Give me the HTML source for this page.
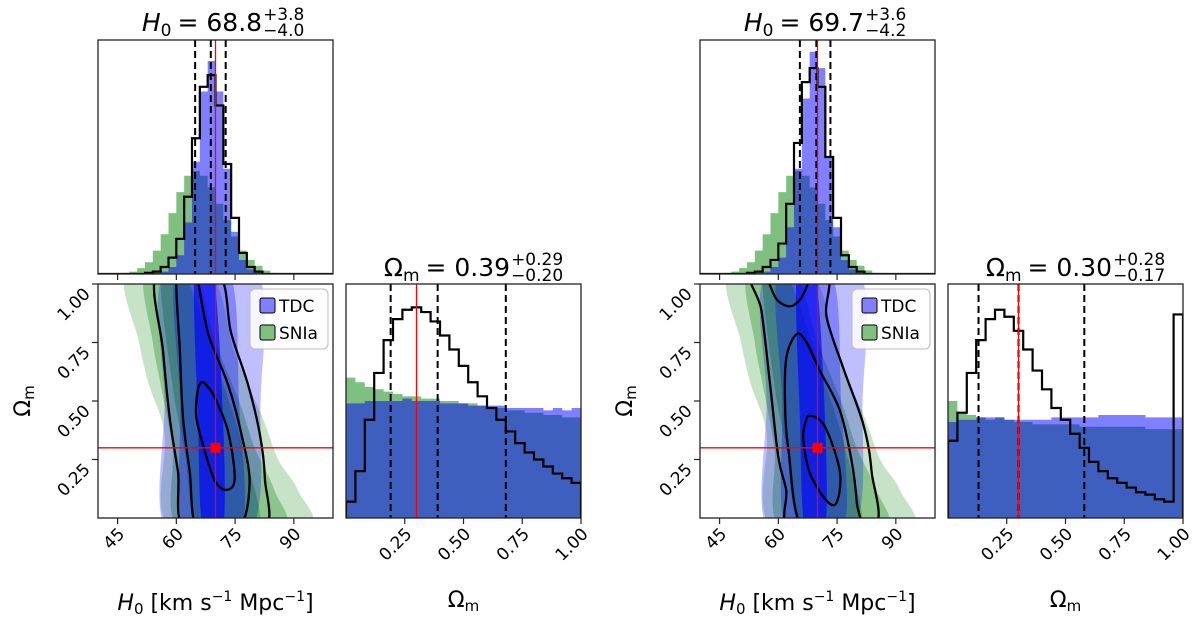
<!DOCTYPE html>
<html><head><meta charset="utf-8"><style>
html,body{margin:0;padding:0;background:#fff;}
svg{display:block;font-family:"DejaVu Sans","Liberation Sans",sans-serif;}
</style></head><body>
<svg id="fig" width="1200" height="620" viewBox="0 0 1200 620" xmlns="http://www.w3.org/2000/svg">
<defs></defs>
</svg>
<script>
// ---------- data ----------
const h0BinStart = 40, h0BinWidth = 2;
const omBinStart = 0, omBinWidth = 0.04;
const h0Ticks = [45, 60, 75, 90];
const h0TickLabels = ["45", "60", "75", "90"];
const omTicks = [0.25, 0.5, 0.75, 1.0];
const omTickLabels = ["0.25", "0.50", "0.75", "1.00"];
const truthH0 = 70, truthOm = 0.3;

// left corner
const L_h0Tdc = [0,0,0,0,0,0,0,0.005,0.01,0.03,0.08,0.22,0.48,0.78,0.91,0.78,0.45,0.18,0.06,0.02,0.005,0,0,0,0,0,0,0,0,0];
const L_h0Sn = [0,0,0,0.005,0.01,0.025,0.05,0.1,0.17,0.26,0.35,0.42,0.44,0.42,0.37,0.3,0.23,0.16,0.1,0.06,0.035,0.015,0.005,0,0,0,0,0,0,0];
const L_h0Joint = [0,0,0,0,0,0,0.005,0.01,0.03,0.07,0.15,0.33,0.58,0.8,0.85,0.72,0.47,0.24,0.09,0.03,0.01,0,0,0,0,0,0,0,0,0];
const L_omTdc = [0.49,0.49,0.5,0.5,0.5,0.5,0.51,0.5,0.5,0.5,0.49,0.49,0.49,0.48,0.48,0.48,0.48,0.47,0.47,0.47,0.47,0.46,0.47,0.46,0.47];
const L_omSn = [0.6,0.58,0.56,0.55,0.54,0.53,0.52,0.52,0.51,0.51,0.5,0.5,0.49,0.49,0.48,0.47,0.47,0.46,0.46,0.45,0.45,0.44,0.44,0.43,0.43];
const L_omJoint = [0.07,0.2,0.42,0.62,0.76,0.85,0.89,0.9,0.88,0.84,0.78,0.72,0.65,0.58,0.52,0.47,0.42,0.37,0.32,0.28,0.25,0.22,0.19,0.17,0.15];
const L_h0Quant = [64.8, 68.8, 72.6];
const L_omQuant = [0.19, 0.39, 0.68];
const L_h0Title = ["68.8", "+3.8", "\u22124.0"];
const L_omTitle = ["0.39", "+0.29", "\u22120.20"];

// right corner
const R_h0Tdc = [0,0,0,0,0,0,0,0.005,0.01,0.03,0.07,0.2,0.45,0.75,0.95,0.88,0.5,0.2,0.06,0.02,0.005,0,0,0,0,0,0,0,0,0];
const R_h0Sn = [0,0,0,0.005,0.01,0.025,0.05,0.1,0.17,0.26,0.35,0.42,0.44,0.42,0.37,0.3,0.23,0.16,0.1,0.06,0.035,0.015,0.005,0,0,0,0,0,0,0];
const R_h0Joint = [0,0,0,0,0,0,0.005,0.01,0.03,0.06,0.13,0.3,0.56,0.82,0.88,0.8,0.5,0.24,0.08,0.03,0.01,0,0,0,0,0,0,0,0,0];
const R_omTdc = [0.41,0.42,0.42,0.43,0.43,0.43,0.42,0.42,0.42,0.42,0.42,0.43,0.43,0.43,0.43,0.43,0.44,0.44,0.44,0.44,0.44,0.43,0.43,0.43,0.43];
const R_omSn = [0.5,0.45,0.44,0.43,0.42,0.43,0.42,0.41,0.41,0.4,0.4,0.4,0.4,0.4,0.39,0.39,0.39,0.39,0.39,0.39,0.39,0.38,0.38,0.38,0.38];
const R_omJoint = [0.33,0.45,0.62,0.76,0.85,0.89,0.86,0.8,0.72,0.63,0.55,0.47,0.42,0.36,0.3,0.24,0.2,0.17,0.15,0.13,0.11,0.1,0.08,0.07,0.87];
const R_h0Quant = [65.5, 69.7, 73.3];
const R_omQuant = [0.13, 0.30, 0.58];
const R_h0Title = ["69.7", "+3.6", "\u22124.2"];
const R_omTitle = ["0.30", "+0.28", "\u22120.17"];

// filled contour bands [H0, Om]
const tdc3 = [[57,1.05],[57,0.5],[57.4,-0.05],[79,-0.05],[81.5,0.5],[80.5,1.05]];
const tdc2 = [[60,1.05],[61,0.5],[62,-0.05],[76.5,-0.05],[76,0.5],[73.5,1.05]];
const tdc1 = [[64.7,1.05],[65.5,0.43],[66.8,-0.05],[71.9,-0.05],[71.9,0.43],[69.4,1.05]];
const sn3 = [[47.5,1.05],[50.5,0.75],[53,0.57],[57,0.36],[59,-0.05],[93,-0.05],[91,0.12],[86,0.25],[82,0.43],[75,0.7],[68,1.05]];
const sn2 = [[52,1.05],[54,0.75],[56,0.57],[59,0.3],[61,-0.05],[87,-0.05],[85,0.12],[80,0.3],[76,0.5],[70,0.75],[64,1.05]];
const sn1 = [[56,1.05],[59,0.57],[62,0.3],[66,-0.05],[81,-0.05],[77,0.3],[72,0.57],[62,1.05]];

// joint black contours
const L_c3 = [[55.1,1.05],[56.6,0.715],[58.3,0.43],[60.4,0.2],[62.6,-0.05],[82.1,-0.05],[82.6,0.17],[81.3,0.36],[78.3,0.57],[74,0.79],[70.4,1.05]];
const L_c2 = [[60.2,1.05],[60.9,0.715],[61.7,0.43],[63.4,0.2],[65.5,-0.05],[75.7,-0.05],[78.7,0.145],[76.6,0.36],[73.2,0.57],[68.1,0.79],[64.7,1.05]];
const L_c1 = [[66.4,0.58],[67.8,0.565],[69.8,0.515],[73.2,0.37],[74.9,0.17],[72.8,0.12],[69.8,0.16],[67.2,0.29],[65.1,0.43],[65.4,0.54]];
const R_c3 = [[53.6,1.05],[55.7,0.886],[57.9,0.57],[60,0.26],[62,0.12],[63.4,-0.05],[84.1,-0.05],[83.8,0.2],[81.7,0.4],[76.6,0.64],[72.3,0.86],[71.7,1.05]];
const R_c2 = [[64.7,0.786],[62.1,0.69],[61.7,0.5],[62.6,0.29],[66.4,-0.05],[80,-0.05],[80,0.07],[78.7,0.245],[75.7,0.46],[70.6,0.63],[67.2,0.75]];
const R_c1 = [[68.1,0.437],[71.9,0.39],[75.7,0.2],[74.9,0.067],[72.3,0.074],[68.1,0.19],[66.4,0.33],[66.8,0.4]];
const R_c0 = [[57.9,1.05],[59,0.95],[61.5,0.91],[64,0.91],[66.5,0.96],[67.4,1.05]];

// ---------- drawing ----------
const NS = "http://www.w3.org/2000/svg";
const svg = document.getElementById('fig');
const defs = svg.querySelector('defs');
function mk(tag, attrs, parent) {
  const e = document.createElementNS(NS, tag);
  for (const k in attrs) e.setAttribute(k, attrs[k]);
  (parent || svg).appendChild(e);
  return e;
}
const PW = 235, PH = 234;
let clipId = 0;
function clip(x, y) {
  const id = 'c' + (clipId++);
  const cp = mk('clipPath', {id: id}, defs);
  mk('rect', {x: x, y: y, width: PW, height: PH}, cp);
  return 'url(#' + id + ')';
}
function stepPath(vals, bs, bw, sx, sy) {
  let d = 'M' + sx(bs) + ',' + sy(0);
  vals.forEach((v, i) => {
    d += 'L' + sx(bs + i * bw) + ',' + sy(v) + 'L' + sx(bs + (i + 1) * bw) + ',' + sy(v);
  });
  d += 'L' + sx(bs + vals.length * bw) + ',' + sy(0);
  return d;
}
function smoothPath(pts, sx, sy) {
  const P = pts.map(p => [sx(p[0]), sy(p[1])]);
  const n = P.length;
  let d = 'M' + P[0][0] + ',' + P[0][1];
  for (let i = 0; i < n; i++) {
    const p0 = P[(i - 1 + n) % n], p1 = P[i], p2 = P[(i + 1) % n], p3 = P[(i + 2) % n];
    const c1 = [p1[0] + (p2[0] - p0[0]) / 6, p1[1] + (p2[1] - p0[1]) / 6];
    const c2 = [p2[0] - (p3[0] - p1[0]) / 6, p2[1] - (p3[1] - p1[1]) / 6];
    d += 'C' + c1[0] + ',' + c1[1] + ' ' + c2[0] + ',' + c2[1] + ' ' + p2[0] + ',' + p2[1];
  }
  return d + 'Z';
}

function title(g, cx, y, vals, isH) {
  const t = mk('text', {x: cx - 44, y: y, 'font-size': 25, 'text-anchor': 'end', fill: '#000'}, g);
  if (isH) {
    const a = mk('tspan', {'font-style': 'italic'}, t); a.textContent = 'H';
    const b = mk('tspan', {'font-size': 17, dy: 5}, t); b.textContent = '0';
  } else {
    const a = mk('tspan', {}, t); a.textContent = '\u03A9';
    const b = mk('tspan', {'font-size': 17, dy: 5}, t); b.textContent = 'm';
  }
  const eq = mk('text', {x: cx - 38, y: y, 'font-size': 25, fill: '#000'}, g);
  eq.textContent = '= ' + vals[0];
  const w = eq.getComputedTextLength ? eq.getComputedTextLength() : 80;
  const up = mk('text', {x: cx - 38 + w + 1, y: y - 11, 'font-size': 17, fill: '#000'}, g);
  up.textContent = vals[1];
  const dn = mk('text', {x: cx - 38 + w + 1, y: y + 5, 'font-size': 17, fill: '#000'}, g);
  dn.textContent = vals[2];
}

function corner(x0, P, name) {
  const g = mk('g', {});
  
  
  const yTop = 40, y2 = 284, xOm = x0 + 248;
  const sxH = v => x0 + (v - 40) / 60 * PW;
  const sxO = v => xOm + v * PW;
  const syTop = v => yTop + PH - v * PH;
  const syO = v => y2 + PH - v * PH;

  const gt = mk('g', {'clip-path': clip(x0, yTop)}, g);
  
  
  const p1 = mk('path', {d: stepPath(P.h0Sn, h0BinStart, h0BinWidth, sxH, syTop), fill: '#008000', 'fill-opacity': 0.5}, gt);
   
  const p2 = mk('path', {d: stepPath(P.h0Tdc, h0BinStart, h0BinWidth, sxH, syTop), fill: '#0000ff', 'fill-opacity': 0.5}, gt);
   
  const p3 = mk('path', {d: stepPath(P.h0Joint, h0BinStart, h0BinWidth, sxH, syTop), fill: 'none', stroke: '#000', 'stroke-width': 2.2}, gt);
   
  P.h0Quant.forEach(q => {
    const l = mk('line', {x1: sxH(q), x2: sxH(q), y1: yTop, y2: yTop + PH, stroke: '#000', 'stroke-width': 2, 'stroke-dasharray': '7,4'}, gt);
     
  });
  const tr1 = mk('line', {x1: sxH(truthH0), x2: sxH(truthH0), y1: yTop, y2: yTop + PH, stroke: '#ff0000', 'stroke-width': 1.3}, gt);
   
  const f1 = mk('rect', {x: x0, y: yTop, width: PW, height: PH, fill: 'none', stroke: '#222', 'stroke-width': 1.3}, g);
   
  h0Ticks.forEach(t => mk('line', {x1: sxH(t), x2: sxH(t), y1: yTop + PH, y2: yTop + PH + 6, stroke: '#222', 'stroke-width': 1.2}, g));
  const tg1 = mk('g', {}, g);  
  title(tg1, x0 + PW / 2, 31, P.h0Title, true);

  const g2 = mk('g', {'clip-path': clip(x0, y2)}, g);
  
  
  [[sn3, 0.22], [sn2, 0.3], [sn1, 0.35]].forEach(([pts, o]) => {
    const e = mk('path', {d: smoothPath(pts, sxH, syO), fill: '#008000', 'fill-opacity': o}, g2);
     
  });
  [[tdc3, 0.25], [tdc2, 0.3], [tdc1, 0.65]].forEach(([pts, o]) => {
    const e = mk('path', {d: smoothPath(pts, sxH, syO), fill: '#0000ff', 'fill-opacity': o}, g2);
     
  });
  P.contours.forEach(pts => {
    const e = mk('path', {d: smoothPath(pts, sxH, syO), fill: 'none', stroke: '#000', 'stroke-width': 2.3, 'stroke-linejoin': 'round'}, g2);
     
  });
  const tv = mk('line', {x1: sxH(truthH0), x2: sxH(truthH0), y1: y2, y2: y2 + PH, stroke: '#ff0000', 'stroke-width': 1.3}, g2);
   
  const th = mk('line', {x1: x0, x2: x0 + PW, y1: syO(truthOm), y2: syO(truthOm), stroke: '#ff0000', 'stroke-width': 1.3}, g2);
   
  const tm = mk('rect', {x: sxH(truthH0) - 5, y: syO(truthOm) - 5, width: 10, height: 10, fill: '#ff0000'}, g2);
   
  const f2 = mk('rect', {x: x0, y: y2, width: PW, height: PH, fill: 'none', stroke: '#222', 'stroke-width': 1.3}, g);
   

  const lg = mk('g', {}, g);  
  mk('rect', {x: x0 + 152, y: y2 + 5, width: 78, height: 60, rx: 5, fill: '#fff', 'fill-opacity': 0.85, stroke: '#bbb', 'stroke-width': 1}, lg);
  const le1 = mk('g', {}, lg);  
  mk('rect', {x: x0 + 162, y: y2 + 14, width: 15, height: 15, rx: 2, fill: '#8080ff', stroke: '#000', 'stroke-width': 1}, le1);
  const lt1 = mk('text', {x: x0 + 181, y: y2 + 28, 'font-size': 17, fill: '#000'}, le1); lt1.textContent = 'TDC';
  const le2 = mk('g', {}, lg);  
  mk('rect', {x: x0 + 162, y: y2 + 41, width: 15, height: 15, rx: 2, fill: '#80c080', stroke: '#000', 'stroke-width': 1}, le2);
  const lt2 = mk('text', {x: x0 + 181, y: y2 + 55, 'font-size': 17, fill: '#000'}, le2); lt2.textContent = 'SNIa';

  h0Ticks.forEach((t, i) => {
    mk('line', {x1: sxH(t), x2: sxH(t), y1: y2 + PH, y2: y2 + PH + 6, stroke: '#222', 'stroke-width': 1.2}, g);
    const tx = mk('text', {x: 0, y: 0, 'font-size': 17, 'text-anchor': 'end', fill: '#000', transform: 'translate(' + (sxH(t) + 8) + ',' + (y2 + PH + 17) + ') rotate(-45)'}, g);
     
    tx.textContent = h0TickLabels[i];
  });
  omTicks.forEach((t, i) => {
    mk('line', {x1: x0 - 6, x2: x0, y1: syO(t), y2: syO(t), stroke: '#222', 'stroke-width': 1.2}, g);
    const ty = mk('text', {x: 0, y: 0, 'font-size': 17, 'text-anchor': 'end', fill: '#000', transform: 'translate(' + (x0 - 7) + ',' + (syO(t) + 11) + ') rotate(-45)'}, g);
     
    ty.textContent = omTickLabels[i];
    mk('line', {x1: sxO(t), x2: sxO(t), y1: y2 + PH, y2: y2 + PH + 6, stroke: '#222', 'stroke-width': 1.2}, g);
    const tx = mk('text', {x: 0, y: 0, 'font-size': 17, 'text-anchor': 'end', fill: '#000', transform: 'translate(' + (sxO(t) + 8) + ',' + (y2 + PH + 17) + ') rotate(-45)'}, g);
     
    tx.textContent = omTickLabels[i];
  });
  const xl = mk('text', {x: x0 + PW / 2, y: 610, 'font-size': 22, 'text-anchor': 'middle', fill: '#000'}, g);
   
  xl.innerHTML = '<tspan font-style="italic">H</tspan><tspan font-size="15" dy="4">0</tspan><tspan dy="-4"> [km s</tspan><tspan font-size="14" dy="-9">\u22121</tspan><tspan dy="9"> Mpc</tspan><tspan font-size="14" dy="-9">\u22121</tspan><tspan dy="9">]</tspan>';
  const yl = mk('text', {x: 0, y: 0, 'font-size': 22, 'text-anchor': 'middle', fill: '#000', transform: 'translate(' + (x0 - 68) + ',' + (y2 + PH / 2) + ') rotate(-90)'}, g);
   
  yl.innerHTML = '\u03A9<tspan font-size="15" dy="4">m</tspan>';
  const ol = mk('text', {x: xOm + PW / 2, y: 607, 'font-size': 22, 'text-anchor': 'middle', fill: '#000'}, g);
   
  ol.innerHTML = '\u03A9<tspan font-size="15" dy="4">m</tspan>';

  const go = mk('g', {'clip-path': clip(xOm, y2)}, g);
  
  
  const q1 = mk('path', {d: stepPath(P.omSn, omBinStart, omBinWidth, sxO, syO), fill: '#008000', 'fill-opacity': 0.5}, go);
   
  const q2 = mk('path', {d: stepPath(P.omTdc, omBinStart, omBinWidth, sxO, syO), fill: '#0000ff', 'fill-opacity': 0.5}, go);
   
  const q3 = mk('path', {d: stepPath(P.omJoint, omBinStart, omBinWidth, sxO, syO), fill: 'none', stroke: '#000', 'stroke-width': 2.2}, go);
   
  P.omQuant.forEach(q => {
    const l = mk('line', {x1: sxO(q), x2: sxO(q), y1: y2, y2: y2 + PH, stroke: '#000', 'stroke-width': 2, 'stroke-dasharray': '7,4'}, go);
     
  });
  const tr2 = mk('line', {x1: sxO(truthOm), x2: sxO(truthOm), y1: y2, y2: y2 + PH, stroke: '#ff0000', 'stroke-width': 1.3}, go);
   
  const f3 = mk('rect', {x: xOm, y: y2, width: PW, height: PH, fill: 'none', stroke: '#222', 'stroke-width': 1.3}, g);
   
  const tg2 = mk('g', {}, g);  
  title(tg2, xOm + PW / 2, 276, P.omTitle, false);
}

corner(98, {h0Tdc: L_h0Tdc, h0Sn: L_h0Sn, h0Joint: L_h0Joint, omTdc: L_omTdc, omSn: L_omSn, omJoint: L_omJoint,
  h0Quant: L_h0Quant, omQuant: L_omQuant, h0Title: L_h0Title, omTitle: L_omTitle, contours: [L_c3, L_c2, L_c1]}, 'left-corner-plot');
corner(700, {h0Tdc: R_h0Tdc, h0Sn: R_h0Sn, h0Joint: R_h0Joint, omTdc: R_omTdc, omSn: R_omSn, omJoint: R_omJoint,
  h0Quant: R_h0Quant, omQuant: R_omQuant, h0Title: R_h0Title, omTitle: R_omTitle, contours: [R_c3, R_c2, R_c1, R_c0]}, 'right-corner-plot');
</script>
</body></html>
